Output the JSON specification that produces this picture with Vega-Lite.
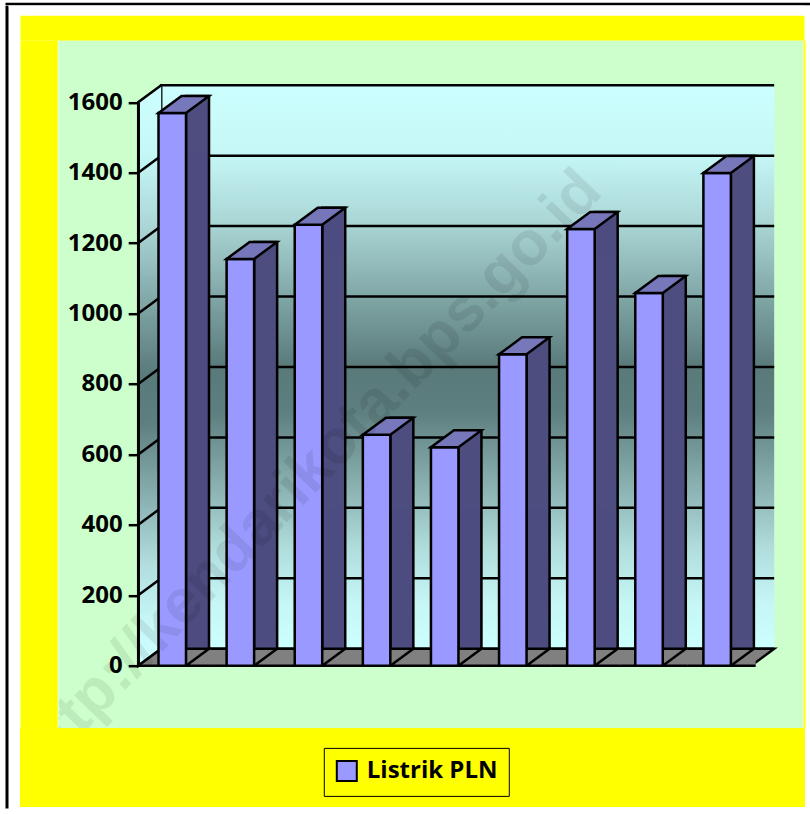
{
  "$schema": "https://vega.github.io/schema/vega-lite/v6.json",
  "background": "white",
  "padding": {"left": 5.5, "top": 2.7, "right": 0, "bottom": 0},
  "config": {"view": {"stroke": null}, "concat": {"spacing": 0}},
  "datasets": {
    "listrik": [
      {"kategori": "1", "nilai": 1569, "seri": "Listrik PLN"},
      {"kategori": "2", "nilai": 1155, "seri": "Listrik PLN"},
      {"kategori": "3", "nilai": 1252, "seri": "Listrik PLN"},
      {"kategori": "4", "nilai": 656, "seri": "Listrik PLN"},
      {"kategori": "5", "nilai": 620, "seri": "Listrik PLN"},
      {"kategori": "6", "nilai": 884, "seri": "Listrik PLN"},
      {"kategori": "7", "nilai": 1240, "seri": "Listrik PLN"},
      {"kategori": "8", "nilai": 1058, "seri": "Listrik PLN"},
      {"kategori": "9", "nilai": 1399, "seri": "Listrik PLN"}
    ]
  },
  "spacing": 0, "bounds": "full", "align": "none",
  "resolve": {"scale": {"color": "independent"}, "legend": {"color": "independent"}},
  "vconcat": [
    {"width": 804.5, "height": 2.6, "data": {"values": [{}]},
     "mark": {"type": "rect", "fill": "black", "stroke": null}},
    {
      "spacing": 0, "bounds": "full", "align": "none",
      "resolve": {"scale": {"color": "independent"}, "legend": {"color": "independent"}},
      "hconcat": [
        {"width": 3, "height": 802.7, "data": {"values": [{}]},
         "mark": {"type": "rect", "fill": "black", "stroke": null}},
        {"width": 11.5, "height": 1, "data": {"values": [{}]},
         "mark": {"type": "rect", "fill": "white", "stroke": null}},
        {
          "spacing": 0, "bounds": "full", "align": "none",
          "resolve": {"scale": {"color": "independent"}, "legend": {"color": "independent"}},
          "vconcat": [
            {"width": 784, "height": 9.7, "data": {"values": [{}]},
             "mark": {"type": "rect", "fill": "white", "stroke": null}},
            {"width": 784, "height": 25, "data": {"values": [{}]},
             "mark": {"type": "rect", "fill": "#FFFF00", "stroke": null}},
            {
              "spacing": 0, "bounds": "full", "align": "none",
              "resolve": {"scale": {"color": "independent"}, "legend": {"color": "independent"}},
              "hconcat": [
                {"width": 37.3, "height": 687.5, "data": {"values": [{}]},
                 "mark": {"type": "rect", "fill": "#FFFF00", "stroke": null}},
                {
                  "width": 744.7, "height": 687.5,
                  "view": {"fill": "#CCFFCC", "stroke": null},
                  "data": {"name": "listrik"},
                  "encoding": {
                    "x": {"field": "kategori", "type": "nominal", "axis": null,
                          "scale": {"range": [79.7, 692.7], "paddingInner": 0, "paddingOuter": 0}},
                    "y": {"field": "nilai", "type": "quantitative",
                          "scale": {"domain": [0, 1600], "range": [625, 61.5], "nice": false, "zero": true},
                          "axis": {"values": [0, 200, 400, 600, 800, 1000, 1200, 1400, 1600],
                                   "format": "d", "offset": -79.7,
                                   "title": null, "grid": false, "zindex": 1,
                                   "labelFont": "Open Sans", "labelFontWeight": "bold", "labelFontSize": 24,
                                   "labelColor": "black", "labelPadding": 6,
                                   "tickColor": "black", "tickWidth": 2.5, "tickSize": 10,
                                   "domainColor": "black", "domainWidth": 2.5}}
                  },
                  "layer": [
                    {
                      "transform": [{"filter": "datum.kategori == '1'"}],
                      "mark": {"type": "point", "filled": true, "opacity": 1, "size": 4,
                               "shape": "M601.94,-17 L-11.06,-17 L-11.06,-580.5 L601.94,-580.5 M-11.06,-87.44 L601.94,-87.44 M-11.06,-157.88 L601.94,-157.88 M-11.06,-228.31 L601.94,-228.31 M-11.06,-298.75 L601.94,-298.75 M-11.06,-369.19 L601.94,-369.19 M-11.06,-439.63 L601.94,-439.63 M-11.06,-510.06 L601.94,-510.06",
                               "fill": {"gradient": "linear", "x1": 0, "y1": 0, "x2": 0, "y2": 1,
                                        "stops": [
                                          {"offset": 0, "color": "#CCFFFF"},
                                          {"offset": 0.12, "color": "#C6F7F7"},
                                          {"offset": 0.25, "color": "#A9D4D4"},
                                          {"offset": 0.37, "color": "#82A8A8"},
                                          {"offset": 0.5, "color": "#5A7A7A"},
                                          {"offset": 0.58, "color": "#5E7F7F"},
                                          {"offset": 0.7, "color": "#86ACAC"},
                                          {"offset": 0.82, "color": "#B0DCDC"},
                                          {"offset": 0.92, "color": "#C6F6F6"},
                                          {"offset": 1, "color": "#CCFFFF"}]},
                               "stroke": "black", "strokeWidth": 2.5},
                      "encoding": {"y": {"datum": 0}}
                    },
                    {
                      "transform": [{"filter": "datum.kategori == '1'"}],
                      "mark": {"type": "point", "filled": true, "opacity": 1, "size": 4,
                               "shape": "M-11.06,-17 L-34.06,0 L-34.06,-563.5 L-11.06,-580.5 M-34.06,-70.44 L-11.06,-87.44 M-34.06,-140.88 L-11.06,-157.88 M-34.06,-211.31 L-11.06,-228.31 M-34.06,-281.75 L-11.06,-298.75 M-34.06,-352.19 L-11.06,-369.19 M-34.06,-422.63 L-11.06,-439.63 M-34.06,-493.06 L-11.06,-510.06",
                               "fill": {"gradient": "linear", "x1": 0, "y1": 0, "x2": 0, "y2": 1,
                                        "stops": [
                                          {"offset": 0, "color": "#CCFFFF"},
                                          {"offset": 0.12, "color": "#C6F7F7"},
                                          {"offset": 0.25, "color": "#A9D4D4"},
                                          {"offset": 0.37, "color": "#82A8A8"},
                                          {"offset": 0.5, "color": "#5A7A7A"},
                                          {"offset": 0.58, "color": "#5E7F7F"},
                                          {"offset": 0.7, "color": "#86ACAC"},
                                          {"offset": 0.82, "color": "#B0DCDC"},
                                          {"offset": 0.92, "color": "#C6F6F6"},
                                          {"offset": 1, "color": "#CCFFFF"}]},
                               "stroke": "black", "strokeWidth": 2.5},
                      "encoding": {"y": {"datum": 0}}
                    },
                    {
                      "transform": [{"filter": "datum.kategori == '1'"}],
                      "mark": {"type": "point", "filled": true, "opacity": 1, "size": 4,
                               "shape": "M-34.06,0 L578.94,0 L601.94,-17 L-11.06,-17 Z",
                               "fill": "#808080", "stroke": "black", "strokeWidth": 2.5},
                      "encoding": {"y": {"datum": 0}}
                    },
                    {
                      "mark": {"type": "bar", "width": 23, "xOffset": 25.25, "yOffset": -17,
                               "fill": "#4D4D80", "stroke": "black", "strokeWidth": 2.5}
                    },
                    {
                      "mark": {"type": "point", "filled": true, "opacity": 1, "size": 4,
                               "shape": "M38.5,0 L13.75,0 L36.75,-17 L38.5,-17",
                               "fill": "#808080", "stroke": "black", "strokeWidth": 2.5},
                      "encoding": {"y": {"datum": 0}}
                    },
                    {
                      "mark": {"type": "bar", "width": 27.5, "stroke": "black", "strokeWidth": 2.5, "opacity": 1},
                      "encoding": {
                        "color": {"field": "seri", "type": "nominal",
                                  "scale": {"range": ["#9999FF"]}, "legend": null}
                      }
                    },
                    {
                      "mark": {"type": "point", "filled": true, "opacity": 1, "size": 4,
                               "shape": "M-13.75,0 L13.75,0 L36.75,-17 L9.25,-17 Z",
                               "fill": "#7777BB", "stroke": "black", "strokeWidth": 2.5},
                      "encoding": {}
                    },
                    {
                      "transform": [{"filter": "datum.kategori == '3'"}],
                      "mark": {"type": "text", "text": "http://kendarikota.bps.go.id",
                               "font": "Liberation Sans", "fontWeight": "bold", "fontSize": 62,
                               "angle": 314, "align": "center", "baseline": "middle",
                               "fill": "black", "opacity": 0.08, "clip": true},
                      "encoding": {"y": {"datum": 548}}
                    }
                  ]
                },
                {"width": 2, "height": 687.5, "data": {"values": [{}]},
                 "mark": {"type": "rect", "fill": "#FFFF00", "stroke": null}}
              ]
            },
            {
              "width": 784, "height": 78.2,
              "data": {"name": "listrik"},
              "layer": [
                {"mark": {"type": "rect", "fill": "#FFFF00", "stroke": null}},
                {
                  "mark": {"type": "point", "shape": "square", "size": 400, "filled": true,
                           "opacity": 1, "stroke": "black", "strokeWidth": 2},
                  "encoding": {
                    "color": {"field": "seri", "type": "nominal",
                              "scale": {"range": ["#9999FF"]},
                              "legend": {"orient": "none", "legendX": 303.3, "legendY": 19.2,
                                         "title": null, "padding": 11, "zindex": 1,
                                         "fillColor": "#FFFF00", "strokeColor": "black",
                                         "symbolType": "square", "symbolSize": 400,
                                         "symbolStrokeColor": "black", "symbolStrokeWidth": 2,
                                         "labelFont": "Open Sans", "labelFontWeight": "bold",
                                         "labelFontSize": 24, "labelColor": "black", "labelOffset": 8}}
                  }
                }
              ]
            }
          ]
        }
      ]
    }
  ]
}
